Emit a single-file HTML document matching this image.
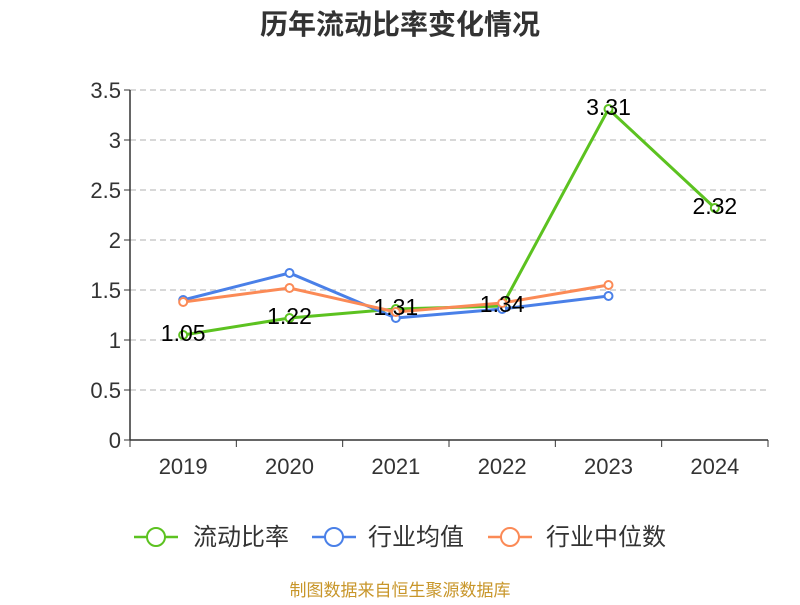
<!DOCTYPE html>
<html><head><meta charset="utf-8"><style>
body{margin:0;background:#fff;width:800px;height:600px;overflow:hidden}
svg text{font-family:"Liberation Sans","Noto Sans CJK SC",sans-serif}
</style></head><body>
<svg id="c" width="800" height="600">
<text x="400" y="34" text-anchor="middle" font-size="28" font-weight="bold" fill="#333">历年流动比率变化情况</text>
<g id="grid"></g><g id="axes"></g><g id="series"></g><g id="labels"></g>
<g>
<g><line x1="134" y1="537" x2="178" y2="537" stroke="#5cc220" stroke-width="2.5"/><circle cx="156" cy="537" r="9" fill="#fff" stroke="#5cc220" stroke-width="2"/><text x="193" y="545" font-size="24" fill="#333">流动比率</text></g>
<g><line x1="312" y1="537" x2="356" y2="537" stroke="#4a80e8" stroke-width="2.5"/><circle cx="334" cy="537" r="9" fill="#fff" stroke="#4a80e8" stroke-width="2"/><text x="368" y="545" font-size="24" fill="#333">行业均值</text></g>
<g><line x1="488" y1="537" x2="532" y2="537" stroke="#fb8a56" stroke-width="2.5"/><circle cx="510" cy="537" r="9" fill="#fff" stroke="#fb8a56" stroke-width="2"/><text x="546" y="545" font-size="24" fill="#333">行业中位数</text></g>
</g>
<text x="400" y="596" text-anchor="middle" font-size="17" fill="#c8962a">制图数据来自恒生聚源数据库</text>
</svg>
<script>
const categories=["2019","2020","2021","2022","2023","2024"];
const ratio=[1.05,1.22,1.31,1.34,3.31,2.32];
const industryAvg=[1.40,1.67,1.22,1.31,1.44];
const industryMedian=[1.38,1.52,1.28,1.37,1.55];
const yTicks=[0,0.5,1,1.5,2,2.5,3,3.5];
const yTickLabels=["0","0.5","1","1.5","2","2.5","3","3.5"];
const NS="http://www.w3.org/2000/svg";
const L=130,R=768,T=90,B=440,yMax=3.5;
const bw=(R-L)/categories.length;
const xs=i=>L+bw*(i+0.5);
const ys=v=>B-(v/yMax)*(B-T);
function mk(p,tag,a){const e=document.createElementNS(NS,tag);for(const k in a)e.setAttribute(k,a[k]);p.appendChild(e);return e;}
const grid=document.getElementById('grid'),axes=document.getElementById('axes'),ser=document.getElementById('series'),lab=document.getElementById('labels');
yTicks.forEach((v,i)=>{
 if(v>0){const g=mk(grid,'line',{x1:L,x2:R,y1:ys(v),y2:ys(v),stroke:'#ccc','stroke-dasharray':'6,4','stroke-width':1.5});
 
 }
 const tk=mk(axes,'line',{x1:L-6,x2:L,y1:ys(v),y2:ys(v),stroke:'#333'});
 
 
 const t=mk(axes,'text',{x:L-9,y:ys(v)+8,'text-anchor':'end','font-size':22,fill:'#333'});t.textContent=yTickLabels[i];
 
 
});
const ya=mk(axes,'line',{x1:L,x2:L,y1:T,y2:B,stroke:'#333','stroke-width':1.5});


const xa=mk(axes,'line',{x1:L,x2:R,y1:B,y2:B,stroke:'#333','stroke-width':1.5});


for(let i=0;i<=categories.length;i++){const tk=mk(axes,'line',{x1:L+bw*i,x2:L+bw*i,y1:B,y2:B+7,stroke:'#333'});
 
 }
categories.forEach((c,i)=>{const t=mk(axes,'text',{x:xs(i),y:B+34,'text-anchor':'middle','font-size':22,fill:'#333'});t.textContent=c;
 
 });
function series(data,color,name){
 const g=mk(ser,'g',{});
 
 
 mk(g,'polyline',{points:data.map((v,i)=>xs(i)+','+ys(v)).join(' '),fill:'none',stroke:color,'stroke-width':3});
 data.forEach((v,i)=>{const c=mk(g,'circle',{cx:xs(i),cy:ys(v),r:4,fill:'#fff',stroke:color,'stroke-width':2});
  
  });
}
series(ratio,'#5cc220','ratio-series');
series(industryAvg,'#4a80e8','avg-series');
series(industryMedian,'#fb8a56','median-series');
ratio.forEach((v,i)=>{const t=mk(lab,'text',{x:xs(i),y:ys(v)+6,'text-anchor':'middle','font-size':23,fill:'#000'});t.textContent=v.toFixed(2);
 
 });
</script>
</body></html>
